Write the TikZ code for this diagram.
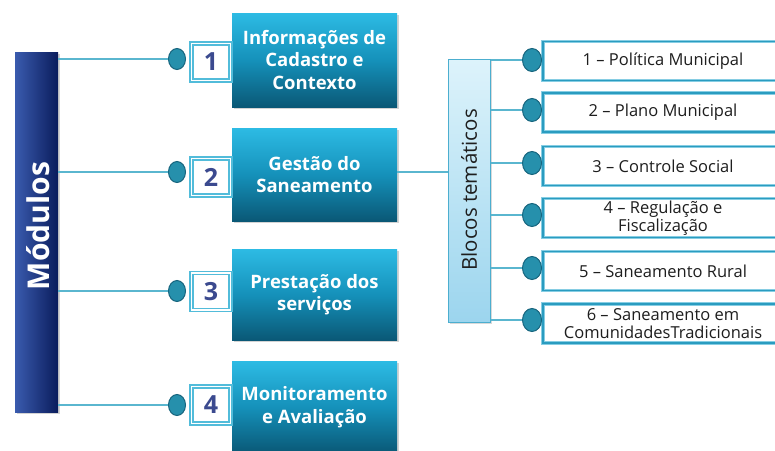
\documentclass[tikz,border=0pt]{standalone}
\usepackage{fontspec}
\setmainfont{Open Sans}
\usetikzlibrary{shapes.geometric,shadows}
\definecolor{barL}{HTML}{3A5BAE}
\definecolor{barR}{HTML}{0A1C5C}
\definecolor{mainT}{HTML}{2DBBE4}
\definecolor{mainM}{HTML}{1591BA}
\definecolor{mainB}{HTML}{0A5876}
\definecolor{lnc}{HTML}{5AB6CF}
\definecolor{ovf}{HTML}{2690AC}
\definecolor{ovd}{HTML}{17657E}
\definecolor{nbx}{HTML}{52BCDA}
\definecolor{numc}{HTML}{3B4A8F}
\definecolor{bloT}{HTML}{DDF3FB}
\definecolor{bloB}{HTML}{9CD5EE}
\definecolor{bloD}{HTML}{4CAECF}
\definecolor{rbL}{HTML}{86CDE3}
\definecolor{rbD}{HTML}{2A9CC0}
\definecolor{txt}{HTML}{1E1E1E}
\begin{document}
\begin{tikzpicture}[x=1pt,y=-1pt,
  conn/.style={draw=lnc,line width=1.4pt},
  oval/.style={ellipse,draw=ovd,line width=1pt,fill=ovf,inner sep=0pt,minimum width=17pt,minimum height=21pt},
  roval/.style={ellipse,draw=ovd,line width=1pt,fill=ovf,inner sep=0pt,minimum width=19pt,minimum height=23pt},
  numbox/.style={draw=nbx,line width=1.9pt,double=white,double distance=1.1pt,fill=white,minimum width=39pt,minimum height=37pt,inner sep=0pt,text=numc,font=\bfseries\fontsize{25}{25}\selectfont},
  mainbox/.style={top color=mainT,bottom color=mainB,middle color=mainM,minimum width=165pt,inner sep=2pt,align=center,text=white,font=\bfseries\fontsize{18.5}{22.5}\selectfont,drop shadow={shadow xshift=2pt,shadow yshift=-2pt,opacity=0.35}},
  rbox/.style={draw=rbL,line width=1pt,double=rbD,double distance=1.2pt,fill=white,minimum width=240pt,minimum height=39pt,inner sep=0pt,align=center,text=txt,font=\fontsize{16.5}{18.5}\selectfont}
]
\useasboundingbox (0,0) rectangle (775,450);

% Modulos bar
\node[left color=barL,right color=barR,minimum width=43pt,minimum height=360pt,inner sep=0pt,drop shadow={shadow xshift=2pt,shadow yshift=-2pt,opacity=0.35}] (bar) at (36.5,232) {};
\node[rotate=90,text=white,font=\bfseries\fontsize{30}{30}\selectfont] (bartxt) at (38,226) {Módulos};

% main boxes
\node[mainbox,minimum height=94pt] (m1) at (314.5,60) {Informações de\\Cadastro e\\Contexto};
\node[mainbox,minimum height=93pt] (m2) at (314.5,174.5) {Gestão do\\Saneamento};
\node[mainbox,minimum height=91pt] (m3) at (314.5,294.5) {Prestação dos\\serviços};
\node[mainbox,minimum height=92pt] (m4) at (314.5,407) {Monitoramento\\e Avaliação};

% number boxes
\node[numbox] (n1) at (211,62) {1};
\node[numbox] (n2) at (211,177) {2};
\node[numbox] (n3) at (211,291.5) {3};
\node[numbox] (n4) at (211,405) {4};

% ovals
\node[oval] (o1) at (177,59) {};
\node[oval] (o2) at (177,172) {};
\node[oval] (o3) at (177,291) {};
\node[oval] (o4) at (177,405) {};

\foreach \i in {1,2,3,4}{\draw[conn] (bar.east |- o\i) -- (o\i.west);}

% Blocos
\node[top color=bloT,bottom color=bloB,draw=bloD,line width=1pt,minimum width=42pt,minimum height=263pt,inner sep=0pt,drop shadow={shadow xshift=2pt,shadow yshift=-2pt,opacity=0.3}] (blo) at (469,190.5) {};
\node[rotate=90,text=txt,font=\fontsize{20.5}{20.5}\selectfont] (blotxt) at (469,190) {Blocos temáticos};

\coordinate (m2r) at (397,172);
\draw[conn] (m2r) -- (blo.west |- m2r);

% right boxes
\node[rbox] (r1) at (663,61) {1 – Política Municipal};
\node[rbox] (r2) at (663,112.5) {2 – Plano Municipal};
\node[rbox] (r3) at (663,166) {3 – Controle Social};
\node[rbox] (r4) at (663,218) {4 – Regulação e\\Fiscalização};
\node[rbox] (r5) at (663,271) {5 – Saneamento Rural};
\node[rbox] (r6) at (663,323.5) {6 – Saneamento em\\ComunidadesTradicionais};

\foreach \i/\y in {1/60,2/110,3/163,4/215,5/268,6/320}{
  \node[roval] (ro\i) at (532,\y) {};
  \draw[conn] (blo.east |- ro\i) -- (ro\i.west);
}
\end{tikzpicture}
\end{document}
